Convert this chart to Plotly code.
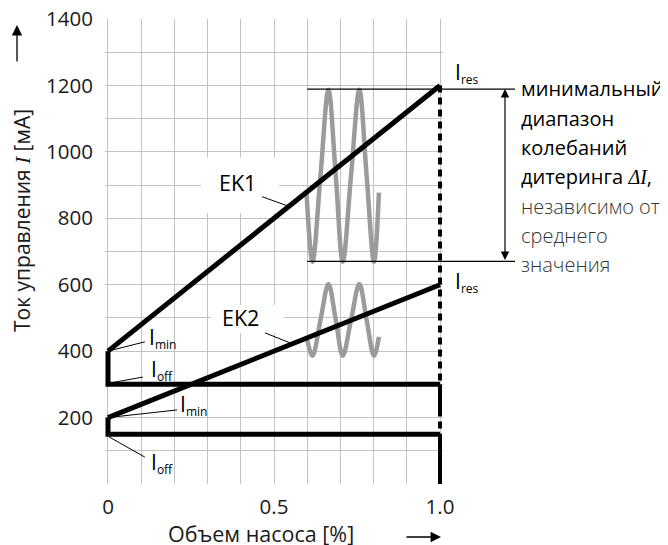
import plotly.graph_objects as go

# ---------------- data ----------------
pump_volume = [0.0, 1.0]                 # relative pump volume
ek1_current = [400, 1200]                # EK1 characteristic, mA
ek2_current = [200, 600]                 # EK2 characteristic, mA

ek1_off_x = [0.0, 0.0, 1.0]
ek1_off_y = [400, 300, 300]              # I_min -> I_off step and off-level of EK1
ek2_off_x = [0.0, 0.0, 1.0]
ek2_off_y = [200, 150, 150]              # I_min -> I_off step and off-level of EK2

right_dash_y = [1200, 150]               # dashed limit at 100 %
right_solid_upper_y = [300, 220]
right_solid_lower_y = [150, 0]

wave_x = [0.598, 0.616, 0.640, 0.664, 0.686, 0.707, 0.732, 0.757, 0.779, 0.801, 0.816]
wave_ek1_y = [877, 669, 928, 1187, 928, 669, 928, 1187, 928, 669, 877]
wave_ek2_y = [443, 386, 494, 602, 494, 386, 494, 602, 494, 386, 443]

dither_band = [670, 1189]                # minimal dither range limits, mA
band_start_x = 0.60

x_tickvals = [0.0, 0.1, 0.2, 0.3, 0.4, 0.5, 0.6, 0.7, 0.8, 0.9, 1.0]
x_ticktext = ["0", "", "", "", "", "0.5", "", "", "", "", "1.0"]
y_tickvals = [0, 100, 200, 300, 400, 500, 600, 700, 800, 900, 1000, 1100, 1200, 1300, 1400]
y_ticktext = ["", "", "200", "", "400", "", "600", "", "800", "", "1000", "", "1200", "", "1400"]

# leader lines (start on curve -> end at label)
leader_x = [[0.0, 0.111], [0.006, 0.105], [0.0, 0.208], [0.003, 0.111], [0.464, 0.542], [0.473, 0.548]]
leader_y = [[400, 428], [304, 322], [200, 223], [142, 81], [865, 837], [455, 425]]

# ---------------- layout geometry ----------------
# the page body adds an 8 px offset, so the figure is 8 px smaller than the window
OFF = 8
X_RANGE = [-0.009, 1.009]
Y_RANGE = [0, 1400]
W, H = 668 - OFF, 545 - OFF
ML, MR, MT, MB = 105 - OFF, 225, 19 - OFF, 61
PW, PH = W - ML - MR, H - MT - MB

def px_x(p):      # window pixel -> paper (x)
    return (p - OFF - ML) / PW

def px_y(p):      # window pixel -> paper (y)
    return (H - MB - (p - OFF)) / PH

def dx(v):        # data x -> paper x
    return (v - X_RANGE[0]) / (X_RANGE[1] - X_RANGE[0])

FONT = "Open Sans"
FS = 21.5          # axis titles / curve labels
FS_TICK = 20.5     # tick numbers
FS_NOTE = 20       # explanatory text on the right
SERIF = "Liberation Serif"
TXT = "#1a1a1a"

fig = go.Figure()

thick = dict(color="black", width=5)

# characteristic lines
fig.add_trace(go.Scatter(x=ek1_off_x, y=ek1_off_y, mode="lines", line=thick))
fig.add_trace(go.Scatter(x=ek2_off_x, y=ek2_off_y, mode="lines", line=thick))
fig.add_trace(go.Scatter(x=[1.0, 1.0], y=right_dash_y, mode="lines",
                         line=dict(color="black", width=4, dash="7px,5px")))
fig.add_trace(go.Scatter(x=[1.0, 1.0], y=right_solid_upper_y, mode="lines",
                         line=dict(color="black", width=4)))
fig.add_trace(go.Scatter(x=[1.0, 1.0], y=right_solid_lower_y, mode="lines",
                         line=dict(color="black", width=4)))

# dither waves
wave_style = dict(color="#9b9b9b", width=4.5, shape="spline", smoothing=1.0)
fig.add_trace(go.Scatter(x=wave_x, y=wave_ek1_y, mode="lines", line=wave_style))
fig.add_trace(go.Scatter(x=wave_x, y=wave_ek2_y, mode="lines", line=wave_style))

fig.add_trace(go.Scatter(x=pump_volume, y=ek1_current, mode="lines", line=thick))
fig.add_trace(go.Scatter(x=pump_volume, y=ek2_current, mode="lines", line=thick))

# leader lines
lx, ly = [], []
for a, b in zip(leader_x, leader_y):
    lx += a + [None]
    ly += b + [None]
fig.add_trace(go.Scatter(x=lx, y=ly, mode="lines", line=dict(color="black", width=1)))

shapes = []
# white masks for the overhanging grid outside x in [0, 1]
shapes.append(dict(type="rect", xref="paper", yref="paper", x0=-0.001, x1=dx(0) - 0.0015,
                   y0=0, y1=1, fillcolor="white", line=dict(width=0), layer="between"))
shapes.append(dict(type="rect", xref="paper", yref="paper", x0=dx(1) + 0.0015, x1=1.001,
                   y0=0, y1=1, fillcolor="white", line=dict(width=0), layer="between"))
# white label boxes behind EK1 / EK2
shapes.append(dict(type="rect", xref="x", yref="y", x0=0.28, x1=0.515, y0=816, y1=982,
                   fillcolor="white", line=dict(width=0), layer="between"))
shapes.append(dict(type="rect", xref="x", yref="y", x0=0.31, x1=0.53, y0=455, y1=539,
                   fillcolor="white", line=dict(width=0), layer="between"))
# thin limit lines of the dither band
for v in dither_band:
    shapes.append(dict(type="line", xref="paper", yref="y", x0=dx(band_start_x), x1=px_x(515),
                       y0=v, y1=v, line=dict(color="black", width=1.2), layer="above"))
fig.update_layout(shapes=shapes)

ann = []
def label(x, y, text, xref="x", yref="y", xanchor="left", size=FS, color="black", weight=400):
    ann.append(dict(x=x, y=y, xref=xref, yref=yref, text=text, showarrow=False,
                    xanchor=xanchor, yanchor="middle",
                    font=dict(family=FONT, size=size, color=color, weight=weight)))

def sublabel(sub):
    return 'I<sub><span style="font-size:12px">%s</span></sub>' % sub

label(0.118, 440, sublabel("min"), size=21)
label(0.123, 343, sublabel("off"), size=21)
label(0.212, 238, sublabel("min"), size=21)
label(0.123, 63, sublabel("off"), size=21)
label(px_x(453), 1236, sublabel("res"), xref="paper", size=21)
label(px_x(453), 608, sublabel("res"), xref="paper", size=21)
label(0.389, 907, "EK1", xanchor="center")
label(0.398, 500, "EK2", xanchor="center")

right_lines = [
    ("минимальный", "black", 400),
    ("диапазон", "black", 400),
    ("колебаний", "black", 400),
    ("дитеринга <span style=\"font-family:'%s'\"><i>ΔI</i></span>," % SERIF, "black", 400),
    ("независимо от", "#333333", 300),
    ("среднего", "#333333", 300),
    ("значения", "#333333", 300),
]
for i, (t, c, wgt) in enumerate(right_lines):
    label(px_x(519), px_y(89 + 29.3 * i), t, xref="paper", yref="paper", color=c,
          size=FS_NOTE, weight=wgt)

# axis titles
ann.append(dict(x=px_x(22), y=px_y(221), xref="paper", yref="paper", showarrow=False,
                textangle=-90, xanchor="center", yanchor="middle", borderpad=0,
                text="Ток управления <span style=\"font-family:'%s'\"><i>I</i></span> [мА]" % SERIF,
                font=dict(family=FONT, size=21, color=TXT)))
ann.append(dict(x=px_x(261), y=px_y(533), xref="paper", yref="paper", showarrow=False,
                xanchor="center", yanchor="middle", borderpad=0, text="Объем насоса [%]",
                font=dict(family=FONT, size=FS, color=TXT)))

# axis arrows
ann.append(dict(x=px_x(17), y=px_y(25), xref="paper", yref="paper", ax=0, ay=38, text="",
                showarrow=True, arrowhead=2, arrowsize=1.6, arrowwidth=1.3, arrowcolor="black"))
ann.append(dict(x=px_x(441), y=px_y(537), xref="paper", yref="paper", ax=-36, ay=0, text="",
                showarrow=True, arrowhead=2, arrowsize=1.6, arrowwidth=1.3, arrowcolor="black"))
# double arrow for dither range
ann.append(dict(x=px_x(505), y=dither_band[1], xref="paper", yref="y",
                ax=0, ay=dither_band[0], ayref="y", text="", showarrow=True,
                arrowhead=2, startarrowhead=2, arrowside="end+start", arrowsize=1.4,
                startarrowsize=1.4, arrowwidth=1.2, arrowcolor="black"))

fig.update_layout(
    annotations=ann,
    width=W, height=H,
    margin=dict(l=ML, r=MR, t=MT, b=MB, pad=0, autoexpand=False),
    plot_bgcolor="white", paper_bgcolor="white",
    showlegend=False,
    font=dict(family=FONT, size=FS, color=TXT),
    xaxis=dict(range=X_RANGE, tickvals=x_tickvals, ticktext=x_ticktext, automargin=False,
               showgrid=True, gridcolor="#c2c2c2", gridwidth=1, zeroline=False,
               showline=False, ticks="", ticklabelstandoff=8, fixedrange=True,
               tickfont=dict(family=FONT, size=FS_TICK, color=TXT), ticklabeloverflow="allow"),
    yaxis=dict(range=Y_RANGE, tickvals=y_tickvals, ticktext=y_ticktext, automargin=False,
               showgrid=True, gridcolor="#c2c2c2", gridwidth=1, zeroline=False,
               showline=False, ticks="", ticklabelstandoff=11, fixedrange=True,
               tickfont=dict(family=FONT, size=FS_TICK, color=TXT), ticklabeloverflow="allow"),
)

fig.write_html("out.html")
